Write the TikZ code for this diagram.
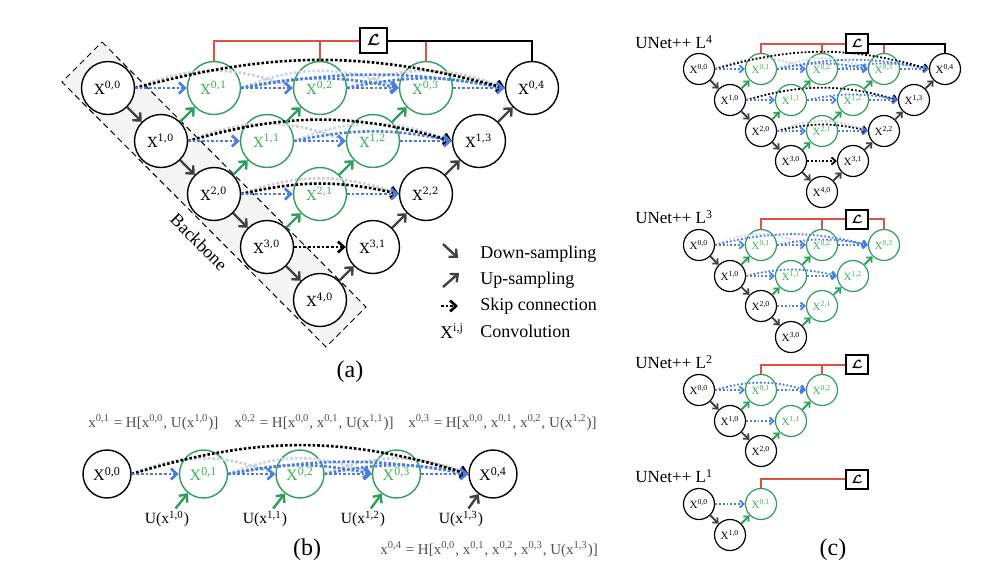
\documentclass[tikz,border=0pt]{standalone}
\usepackage{fontspec}
\usepackage{amsmath}
\setmainfont{Liberation Serif}
\newfontfamily\slabfont{DejaVu Serif}
\usetikzlibrary{arrows.meta}

\definecolor{nestgreen}{RGB}{44,160,90}
\definecolor{nesttext}{RGB}{60,180,80}
\definecolor{skipblue}{RGB}{72,126,228}
\definecolor{fadeblue}{RGB}{200,214,240}
\definecolor{fadegray}{RGB}{205,205,205}
\definecolor{lossred}{RGB}{222,82,70}
\definecolor{sampgray}{RGB}{64,64,64}
\definecolor{eqgray}{RGB}{80,80,80}
\definecolor{backfill}{RGB}{244,244,244}

\newcommand{\Xl}[1]{X\textsuperscript{#1}}
\newcommand{\xl}[1]{x\textsuperscript{#1}}
\newcommand{\lossL}{$\boldsymbol{\mathcal{L}}$}

\tikzset{
  unit/.style={circle, fill=white, inner sep=0pt, line width=0.7pt},
  enc/.style={unit, draw=black},
  nest/.style={unit, draw=nestgreen, text=nesttext},
  abig/.style={minimum size=26.5pt, font=\slabfont\fontsize{7}{7}\selectfont},
  bmid/.style={minimum size=24pt, font=\fontsize{8}{8}\selectfont},
  csmall/.style={minimum size=15.5pt, line width=0.6pt, font=\fontsize{5.5}{5.5}\selectfont},
  skipline/.style={densely dotted, line width=1.3pt, draw=skipblue, -{Straight Barb[length=3pt,width=5.5pt]}},
  skipblack/.style={skipline, draw=black},
  fadeline/.style={densely dotted, line width=1.3pt, draw=fadeblue},
  fadeblack/.style={fadeline, draw=fadegray},
  downarr/.style={line width=1.2pt, draw=sampgray, -{Straight Barb[length=3pt,width=5.5pt]}},
  uparr/.style={downarr, draw=nestgreen},
  sm/.style={line width=0.9pt, -{Straight Barb[length=2pt,width=3.6pt]}},
  smf/.style={line width=0.9pt},
  lossbox/.style={draw, line width=1.2pt, fill=white, inner sep=0pt, minimum width=13.5pt, minimum height=12.5pt, font=\fontsize{8}{8}\selectfont},
  closs/.style={lossbox, line width=1pt, minimum width=11pt, minimum height=9.5pt, font=\fontsize{6}{6}\selectfont},
  redline/.style={draw=lossred, line width=1pt},
  blackline/.style={draw=black, line width=1pt},
  legtext/.style={anchor=west, inner sep=0pt, font=\fontsize{9}{10}\selectfont},
  eqtext/.style={anchor=west, inner sep=0pt, text=eqgray, font=\fontsize{7.5}{9}\selectfont},
  ulabel/.style={inner sep=1pt, font=\fontsize{7.8}{9}\selectfont},
  nettitle/.style={anchor=west, inner sep=0pt, font=\fontsize{8.5}{9}\selectfont},
  panel/.style={font=\fontsize{12}{12}\selectfont},
}

\begin{document}
\begin{tikzpicture}[x=0.5pt, y=-0.5pt]
\useasboundingbox (0,0) rectangle (992,574);

% (a) backbone
\draw[dashed, fill=backfill, line width=0.5pt, dash pattern=on 3pt off 2pt] (102,42) -- (366,307) -- (326,347) -- (62,82) -- cycle;
\node[rotate=-45, inner sep=0pt, font=\fontsize{9}{9}\selectfont] (bbtext) at (199,242) {Backbone};

% (a) first row left to right
\node[enc,abig] (a00) at (108,88) {\Xl{0,0}};
\node[nest,abig] (a01) at (214,88) {\Xl{0,1}};
\node[nest,abig] (a02) at (320,88) {\Xl{0,2}};
\node[nest,abig] (a03) at (426,88) {\Xl{0,3}};
\node[enc,abig] (a04) at (532,88) {\Xl{0,4}};

% (a) second row
\node[enc,abig] (a10) at (161,141) {\Xl{1,0}};
\node[nest,abig] (a11) at (267,141) {\Xl{1,1}};
\node[nest,abig] (a12) at (373,141) {\Xl{1,2}};
\node[enc,abig] (a13) at (479,141) {\Xl{1,3}};

% (a) third row
\node[enc,abig] (a20) at (214,194) {\Xl{2,0}};
\node[nest,abig] (a21) at (320,194) {\Xl{2,1}};
\node[enc,abig] (a22) at (426,194) {\Xl{2,2}};

% (a) fourth and fifth row
\node[enc,abig] (a30) at (267,247) {\Xl{3,0}};
\node[enc,abig] (a31) at (373,247) {\Xl{3,1}};
\node[enc,abig] (a40) at (320,300) {\Xl{4,0}};

% (a) loss
\node[lossbox] (aloss) at (373.5,40.5) {\lossL};
\draw[redline] (a01.north) |- (aloss.west);
\draw[redline] (a02.north) -- (a02.north |- aloss.west);
\draw[redline] (a03.north) -- (a03.north |- aloss.east);
\draw[blackline] (aloss.east) -| (a04.north);

% (a) skip connections
\draw[fadeblack] (a00.east) to[bend left=22] (a02.west);
\draw[fadeline] (a01.east) to[bend left=22] (a03.west);
\draw[fadeblack] (a02.east) to[bend left=22] (a04.west);
\draw[skipline] (a01.east) to[bend left=10] (a04.west);
\draw[skipline] (a01.east) to[bend left=12] (a03.west);
\draw[skipline] (a02.east) to[bend left=12] (a04.west);
\draw[skipblack] (a00.east) to[bend left=15] (a04.west);
\draw[skipline] (a00) -- (a01);
\draw[skipline] (a01) -- (a02);
\draw[skipline] (a02) -- (a03);
\draw[skipline] (a03) -- (a04);

\draw[fadeblack] (a10.east) to[bend left=22] (a12.west);
\draw[fadeline] (a11.east) to[bend left=22] (a13.west);
\draw[skipline] (a11.east) to[bend left=12] (a13.west);
\draw[skipblack] (a10.east) to[bend left=16] (a13.west);
\draw[skipline] (a10) -- (a11);
\draw[skipline] (a11) -- (a12);
\draw[skipline] (a12) -- (a13);

\draw[fadeblack] (a20.east) to[bend left=20] (a22.west);
\draw[skipblack] (a20.east) to[bend left=13] (a22.west);
\draw[skipline] (a20) -- (a21);
\draw[skipline] (a21) -- (a22);

\draw[skipblack] (a30) -- (a31);

% (a) down and up sampling
\draw[downarr] (a00) -- (a10);
\draw[downarr] (a10) -- (a20);
\draw[downarr] (a20) -- (a30);
\draw[downarr] (a30) -- (a40);
\draw[uparr] (a10) -- (a01);
\draw[uparr] (a11) -- (a02);
\draw[uparr] (a12) -- (a03);
\draw[uparr] (a20) -- (a11);
\draw[uparr] (a21) -- (a12);
\draw[uparr] (a30) -- (a21);
\draw[downarr] (a40) -- (a31);
\draw[downarr] (a31) -- (a22);
\draw[downarr] (a22) -- (a13);
\draw[downarr] (a13) -- (a04);

% (a) legend
\coordinate (dn1) at (443,244);
\coordinate (dn2) at (458,258);
\coordinate (up1) at (443,287);
\coordinate (up2) at (459,273);
\coordinate (sk1) at (441,306);
\coordinate (sk2) at (458,306);
\draw[downarr] (dn1) -- (dn2);
\draw[downarr] (up1) -- (up2);
\draw[skipblack] (sk1) -- (sk2);
\node[inner sep=0pt, font=\fontsize{9}{10}\selectfont] (lconv) at (452,331) {\Xl{i,j}};
\node[legtext] (ldown) at (480,254) {Down-sampling};
\node[legtext] (lup) at (480,280) {Up-sampling};
\node[legtext] (lskip) at (480,306) {Skip connection};
\node[legtext] (lcv) at (480,331) {Convolution};
\node[panel] (capa) at (350,372) {(a)};

% (b) equations
\node[eqtext] (eq1) at (88,423) {\xl{0,1} = H[\xl{0,0}, U(\xl{1,0})]};
\node[eqtext] (eq2) at (234,423) {\xl{0,2} = H[\xl{0,0}, \xl{0,1}, U(\xl{1,1})]};
\node[eqtext] (eq3) at (408,423) {\xl{0,3} = H[\xl{0,0}, \xl{0,1}, \xl{0,2}, U(\xl{1,2})]};
\node[eqtext] (eq4) at (380,550) {\xl{0,4} = H[\xl{0,0}, \xl{0,1}, \xl{0,2}, \xl{0,3}, U(\xl{1,3})]};

% (b) row
\node[enc,bmid] (b00) at (107,474) {\Xl{0,0}};
\node[nest,bmid] (b01) at (203.5,474) {\Xl{0,1}};
\node[nest,bmid] (b02) at (300,474) {\Xl{0,2}};
\node[nest,bmid] (b03) at (396.5,474) {\Xl{0,3}};
\node[enc,bmid] (b04) at (493,474) {\Xl{0,4}};
\node[ulabel] (u10) at (167,519) {U(\xl{1,0})};
\node[ulabel] (u11) at (265,519) {U(\xl{1,1})};
\node[ulabel] (u12) at (363,519) {U(\xl{1,2})};
\node[ulabel] (u13) at (461,519) {U(\xl{1,3})};

\draw[fadeblack] (b00.east) to[bend left=22] (b02.west);
\draw[fadeline] (b01.east) to[bend left=22] (b03.west);
\draw[fadeblack] (b02.east) to[bend left=22] (b04.west);
\draw[skipline] (b01.east) to[bend left=10] (b04.west);
\draw[skipline] (b01.east) to[bend left=12] (b03.west);
\draw[skipline] (b02.east) to[bend left=12] (b04.west);
\draw[skipblack] (b00.east) to[bend left=17] (b04.west);
\draw[skipline] (b00) -- (b01);
\draw[skipline] (b01) -- (b02);
\draw[skipline] (b02) -- (b03);
\draw[skipline] (b03) -- (b04);
\draw[uparr] (u10) -- (b01);
\draw[uparr] (u11) -- (b02);
\draw[uparr] (u12) -- (b03);
\draw[downarr] (u13) -- (b04);
\node[panel] (capb) at (307,550) {(b)};

% (c) UNet++ L4
\node[nettitle] (t4) at (635,42) {UNet++ L\textsuperscript{4}};
\node[enc,csmall] (l4x00) at (699,69) {\Xl{0,0}};
\node[nest,csmall] (l4x01) at (761,69) {\Xl{0,1}};
\node[nest,csmall] (l4x02) at (822,69) {\Xl{0,2}};
\node[nest,csmall] (l4x03) at (884,69) {\Xl{0,3}};
\node[enc,csmall] (l4x04) at (945,69) {\Xl{0,4}};
\node[enc,csmall] (l4x10) at (730,100) {\Xl{1,0}};
\node[nest,csmall] (l4x11) at (791,100) {\Xl{1,1}};
\node[nest,csmall] (l4x12) at (853,100) {\Xl{1,2}};
\node[enc,csmall] (l4x13) at (914,100) {\Xl{1,3}};
\node[enc,csmall] (l4x20) at (761,131) {\Xl{2,0}};
\node[nest,csmall] (l4x21) at (822,131) {\Xl{2,1}};
\node[enc,csmall] (l4x22) at (884,131) {\Xl{2,2}};
\node[enc,csmall] (l4x30) at (791,161) {\Xl{3,0}};
\node[enc,csmall] (l4x31) at (853,161) {\Xl{3,1}};
\node[enc,csmall] (l4x40) at (822,192) {\Xl{4,0}};
\node[closs] (l4loss) at (857,43.5) {\lossL};
\draw[redline] (l4x01.north) |- (l4loss.west);
\draw[redline] (l4x02.north) -- (l4x02.north |- l4loss.west);
\draw[redline] (l4x03.north) -- (l4x03.north |- l4loss.east);
\draw[blackline] (l4loss.east) -| (l4x04.north);
\draw[fadeblack,smf] (l4x00.east) to[bend left=24] (l4x02.west);
\draw[fadeline,smf] (l4x01.east) to[bend left=24] (l4x03.west);
\draw[skipline,sm] (l4x01.east) to[bend left=12] (l4x04.west);
\draw[skipline,sm] (l4x01.east) to[bend left=12] (l4x03.west);
\draw[skipline,sm] (l4x02.east) to[bend left=12] (l4x04.west);
\draw[skipblack,sm] (l4x00.east) to[bend left=16] (l4x04.west);
\draw[skipline,sm] (l4x00) -- (l4x01);
\draw[skipline,sm] (l4x01) -- (l4x02);
\draw[skipline,sm] (l4x02) -- (l4x03);
\draw[skipline,sm] (l4x03) -- (l4x04);
\draw[skipline,sm] (l4x11.east) to[bend left=12] (l4x13.west);
\draw[skipblack,sm] (l4x10.east) to[bend left=16] (l4x13.west);
\draw[skipline,sm] (l4x10) -- (l4x11);
\draw[skipline,sm] (l4x11) -- (l4x12);
\draw[skipline,sm] (l4x12) -- (l4x13);
\draw[fadeblack,smf] (l4x20.east) to[bend left=22] (l4x22.west);
\draw[skipblack,sm] (l4x20.east) to[bend left=14] (l4x22.west);
\draw[skipline,sm] (l4x20) -- (l4x21);
\draw[skipline,sm] (l4x21) -- (l4x22);
\draw[skipblack,sm] (l4x30) -- (l4x31);
\draw[downarr,sm] (l4x00) -- (l4x10);
\draw[downarr,sm] (l4x10) -- (l4x20);
\draw[downarr,sm] (l4x20) -- (l4x30);
\draw[downarr,sm] (l4x30) -- (l4x40);
\draw[uparr,sm] (l4x10) -- (l4x01);
\draw[uparr,sm] (l4x11) -- (l4x02);
\draw[uparr,sm] (l4x12) -- (l4x03);
\draw[uparr,sm] (l4x20) -- (l4x11);
\draw[uparr,sm] (l4x21) -- (l4x12);
\draw[uparr,sm] (l4x30) -- (l4x21);
\draw[downarr,sm] (l4x40) -- (l4x31);
\draw[downarr,sm] (l4x31) -- (l4x22);
\draw[downarr,sm] (l4x22) -- (l4x13);
\draw[downarr,sm] (l4x13) -- (l4x04);

% (c) UNet++ L3
\node[nettitle] (t3) at (635,217) {UNet++ L\textsuperscript{3}};
\node[enc,csmall] (l3x00) at (699,245) {\Xl{0,0}};
\node[nest,csmall] (l3x01) at (761,245) {\Xl{0,1}};
\node[nest,csmall] (l3x02) at (822,245) {\Xl{0,2}};
\node[nest,csmall] (l3x03) at (884,245) {\Xl{0,3}};
\node[enc,csmall] (l3x10) at (730,276) {\Xl{1,0}};
\node[nest,csmall] (l3x11) at (791,276) {\Xl{1,1}};
\node[nest,csmall] (l3x12) at (853,276) {\Xl{1,2}};
\node[enc,csmall] (l3x20) at (761,306) {\Xl{2,0}};
\node[nest,csmall] (l3x21) at (822,306) {\Xl{2,1}};
\node[enc,csmall] (l3x30) at (791,337) {\Xl{3,0}};
\node[closs] (l3loss) at (857,219) {\lossL};
\draw[redline] (l3x01.north) |- (l3loss.west);
\draw[redline] (l3x02.north) -- (l3x02.north |- l3loss.west);
\draw[redline] (l3loss.east) -| (l3x03.north);
\draw[fadeline,smf] (l3x00.east) to[bend left=24] (l3x02.west);
\draw[skipline,sm] (l3x01.east) to[bend left=12] (l3x03.west);
\draw[skipline,sm] (l3x00.east) to[bend left=14] (l3x03.west);
\draw[skipline,sm] (l3x00) -- (l3x01);
\draw[skipline,sm] (l3x01) -- (l3x02);
\draw[skipline,sm] (l3x02) -- (l3x03);
\draw[skipline,sm] (l3x10.east) to[bend left=14] (l3x12.west);
\draw[skipline,sm] (l3x10) -- (l3x11);
\draw[skipline,sm] (l3x11) -- (l3x12);
\draw[skipline,sm] (l3x20) -- (l3x21);
\draw[downarr,sm] (l3x00) -- (l3x10);
\draw[downarr,sm] (l3x10) -- (l3x20);
\draw[downarr,sm] (l3x20) -- (l3x30);
\draw[uparr,sm] (l3x10) -- (l3x01);
\draw[uparr,sm] (l3x11) -- (l3x02);
\draw[uparr,sm] (l3x12) -- (l3x03);
\draw[uparr,sm] (l3x20) -- (l3x11);
\draw[uparr,sm] (l3x21) -- (l3x12);
\draw[uparr,sm] (l3x30) -- (l3x21);

% (c) UNet++ L2
\node[nettitle] (t2) at (635,362) {UNet++ L\textsuperscript{2}};
\node[enc,csmall] (l2x00) at (699,390) {\Xl{0,0}};
\node[nest,csmall] (l2x01) at (761,390) {\Xl{0,1}};
\node[nest,csmall] (l2x02) at (822,390) {\Xl{0,2}};
\node[enc,csmall] (l2x10) at (730,421) {\Xl{1,0}};
\node[nest,csmall] (l2x11) at (791,421) {\Xl{1,1}};
\node[enc,csmall] (l2x20) at (761,451) {\Xl{2,0}};
\node[closs] (l2loss) at (857,364.5) {\lossL};
\draw[redline] (l2x01.north) |- (l2loss.west);
\draw[redline] (l2x02.north) -- (l2x02.north |- l2loss.west);
\draw[skipline,sm] (l2x00.east) to[bend left=16] (l2x02.west);
\draw[skipline,sm] (l2x00) -- (l2x01);
\draw[skipline,sm] (l2x01) -- (l2x02);
\draw[skipline,sm] (l2x10) -- (l2x11);
\draw[downarr,sm] (l2x00) -- (l2x10);
\draw[downarr,sm] (l2x10) -- (l2x20);
\draw[uparr,sm] (l2x10) -- (l2x01);
\draw[uparr,sm] (l2x11) -- (l2x02);
\draw[uparr,sm] (l2x20) -- (l2x11);

% (c) UNet++ L1
\node[nettitle] (t1) at (635,476) {UNet++ L\textsuperscript{1}};
\node[enc,csmall] (l1x00) at (699,504) {\Xl{0,0}};
\node[nest,csmall] (l1x01) at (761,504) {\Xl{0,1}};
\node[enc,csmall] (l1x10) at (730,535) {\Xl{1,0}};
\node[closs] (l1loss) at (857,479) {\lossL};
\draw[redline] (l1x01.north) |- (l1loss.west);
\draw[skipline,sm] (l1x00) -- (l1x01);
\draw[downarr,sm] (l1x00) -- (l1x10);
\draw[uparr,sm] (l1x10) -- (l1x01);
\node[panel] (capc) at (833,550) {(c)};
\end{tikzpicture}
\end{document}
